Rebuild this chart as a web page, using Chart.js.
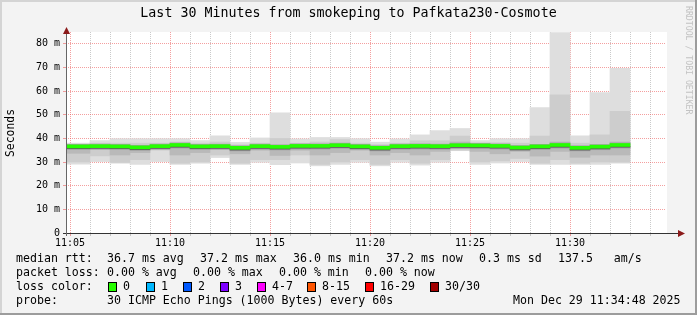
<!DOCTYPE html>
<html lang="en">
<head>
<meta charset="UTF-8">
<title>Last 30 Minutes from smokeping to Pafkata230-Cosmote</title>
<style>
  html, body { margin: 0; padding: 0; background: #f3f3f3; }
  #wrap { width: 697px; height: 315px; }
</style>
<script src="https://cdn.jsdelivr.net/npm/chart.js"></script>
</head>
<body>
<div id="wrap"><canvas id="smoke" width="697" height="315"></canvas></div>
<script>
// minute (11:MM) at which each 60 s step ends
const stepEnd = [5, 6, 7, 8, 9, 10, 11, 12, 13, 14, 15, 16, 17, 18, 19, 20,
                 21, 22, 23, 24, 25, 26, 27, 28, 29, 30, 31, 32, 33];

// ping spread per step (ms)
const rttMin = [29.1, 29.1, 30.2, 29.5, 29.0, 30.2, 29.0, 29.5, 31.9, 29.0, 29.9, 28.9, 29.6, 28.4, 29.0,
                29.9, 28.4, 29.9, 28.7, 29.9, 34.8, 29.0, 29.6, 30.2, 29.0, 29.0, 29.0, 29.0, 29.5];
const rttP10 = [30.0, 30.0, 32.6, 29.8, 31.0, 35.0, 29.5, 30.0, 33.0, 29.5, 31.0, 31.0, 33.0, 29.0, 30.0,
                31.0, 29.0, 31.0, 29.5, 31.0, 35.0, 30.0, 30.5, 31.5, 29.5, 31.0, 29.5, 30.0, 30.0];
const rttP25 = [33.7, 33.7, 35.5, 33.0, 34.0, 35.6, 33.0, 34.0, 35.5, 33.5, 35.0, 32.8, 35.0, 33.0, 34.0,
                35.0, 33.0, 34.0, 33.0, 34.5, 35.8, 34.5, 33.5, 34.5, 32.5, 34.5, 32.0, 33.0, 33.0];
const rttMed = [36.6, 36.6, 36.7, 36.6, 36.2, 36.7, 37.2, 36.6, 36.7, 36.0, 36.7, 36.4, 36.8, 36.8, 37.1,
                36.6, 36.0, 36.7, 36.8, 36.7, 37.1, 37.0, 36.8, 36.1, 36.6, 37.2, 36.0, 36.5, 37.2];
const rttP75 = [37.2, 37.2, 37.3, 37.2, 36.8, 37.2, 37.8, 37.1, 37.3, 36.6, 37.2, 37.1, 37.3, 37.3, 38.0,
                37.1, 36.6, 37.2, 37.4, 37.3, 38.5, 37.6, 37.3, 36.8, 37.3, 38.5, 36.6, 37.2, 38.5];
const rttP90 = [37.6, 37.6, 38.0, 38.0, 38.0, 38.0, 38.5, 38.0, 38.5, 37.3, 38.0, 40.0, 38.0, 38.5, 39.5,
                38.0, 37.4, 38.0, 39.0, 39.0, 41.0, 38.2, 38.2, 38.0, 41.0, 58.4, 38.0, 41.5, 51.4];
const rttMax = [38.0, 38.0, 39.1, 39.9, 39.9, 39.9, 39.9, 39.1, 41.1, 38.3, 40.2, 50.8, 39.8, 40.4, 40.4,
                39.9, 38.4, 39.8, 41.5, 43.3, 44.2, 39.1, 39.9, 39.9, 53.0, 84.8, 41.1, 59.4, 69.6];

// axis labels
const yTickLabels = ['0', '10 m', '20 m', '30 m', '40 m', '50 m', '60 m', '70 m', '80 m'];
const xTickLabels = ['11:05', '11:10', '11:15', '11:20', '11:25', '11:30'];

// legend texts
const rttStats = ['36.7 ms avg', '37.2 ms max', '36.0 ms min', '37.2 ms now', '0.3 ms sd', '137.5   am/s'];
const lossStats = ['0.00 % avg', '0.00 % max', '0.00 % min', '0.00 % now'];
const lossLabels = ['0', '1', '2', '3', '4-7', '8-15', '16-29', '30/30'];
const lossColors = ['#26ff00', '#00b8ff', '#0059ff', '#7e00ff', '#ff00ff', '#ff5500', '#ff0000', '#a10000'];

const MONO = '"DejaVu Sans Mono", monospace';

function range(lo, hi) {
    return stepEnd.map((m, i) => ({ x: m - 0.5, y: [lo(i), hi(i)] }));
}

function layer(label, data, color, order) {
    return {
        label: label, data: data, backgroundColor: color, borderWidth: 0,
        barThickness: 20, grouped: false, order: order
    };
}

const datasets = [
    layer('min-max', range(i => rttMin[i], i => rttMax[i]), '#dedede', 6),
    layer('p10-p90', range(i => rttP10[i], i => rttP90[i]), '#cdcdcd', 5),
    layer('p25-p75', range(i => rttP25[i], i => rttP75[i]), '#b9b9b9', 4),
    layer('core', range(i => rttMed[i] - 1.3, i => rttMed[i] + 0.9), '#a3a3a3', 3),
    layer('shade', range(i => rttMed[i] - 0.95, i => rttMed[i] - 0.55), '#5e5e5e', 2),
    layer('median rtt', range(i => rttMed[i] - 0.6, i => rttMed[i] + 0.65), lossColors[0], 1)
];

const gridRed = 'rgba(235, 80, 80, 0.55)';
const gridGray = 'rgba(150, 150, 150, 0.5)';

const rrdFrame = {
    id: 'rrdFrame',
    beforeDraw(chart) {
        const c = chart.ctx, a = chart.chartArea;
        c.save();
        c.fillStyle = '#f3f3f3';
        c.fillRect(0, 0, chart.width, chart.height);
        // bevel
        c.fillStyle = '#d4d4d4';
        c.fillRect(0, 0, chart.width, 2);
        c.fillRect(0, 0, 2, chart.height);
        c.fillStyle = '#9c9c9c';
        c.fillRect(0, chart.height - 2, chart.width, 2);
        c.fillRect(chart.width - 2, 0, 2, chart.height);
        c.fillStyle = '#ffffff';
        c.fillRect(a.left, a.top, a.right - a.left + 1, a.bottom - a.top);
        c.restore();
    },
    afterDraw(chart) {
        const c = chart.ctx, a = chart.chartArea;
        c.save();
        // axes with arrows
        c.strokeStyle = '#333';
        c.lineWidth = 1;
        c.beginPath();
        c.moveTo(a.left - 3, a.bottom + 0.5);
        c.lineTo(a.right + 16, a.bottom + 0.5);
        c.stroke();
        c.strokeStyle = '#666';
        c.beginPath();
        c.moveTo(a.left + 0.5, a.bottom + 3);
        c.lineTo(a.left + 0.5, a.top - 1);
        c.stroke();
        c.fillStyle = '#8b1a1a';
        c.beginPath();
        c.moveTo(a.right + 19, a.bottom + 0.5);
        c.lineTo(a.right + 12, a.bottom - 3);
        c.lineTo(a.right + 12, a.bottom + 4);
        c.closePath();
        c.fill();
        c.beginPath();
        c.moveTo(a.left + 0.5, a.top - 5);
        c.lineTo(a.left - 3, a.top + 2);
        c.lineTo(a.left + 4, a.top + 2);
        c.closePath();
        c.fill();

        c.fillStyle = '#000';
        c.textBaseline = 'middle';
        // title
        c.font = '13.3px ' + MONO;
        c.textAlign = 'center';
        c.fillText('Last 30 Minutes from smokeping to Pafkata230-Cosmote', chart.width / 2, 14);
        // unit
        c.save();
        c.translate(11, 133);
        c.rotate(-Math.PI / 2);
        c.font = '11.4px ' + MONO;
        c.fillText('Seconds', 0, 0);
        c.restore();
        // watermark
        c.save();
        c.translate(688, 6);
        c.rotate(Math.PI / 2);
        c.textAlign = 'left';
        c.fillStyle = '#c2c2c2';
        c.font = '8.2px ' + MONO;
        c.fillText('RRDTOOL / TOBI OETIKER', 0, 0);
        c.restore();

        // legend
        c.textAlign = 'left';
        c.font = '11.6px ' + MONO;
        const rows = [259, 273, 287, 301];
        c.fillText('median rtt:', 16, rows[0]);
        [107, 200, 293, 386, 479, 558].forEach((x, i) => c.fillText(rttStats[i], x, rows[0]));
        c.fillText('packet loss:', 16, rows[1]);
        [107, 193, 279, 365].forEach((x, i) => c.fillText(lossStats[i], x, rows[1]));
        c.fillText('loss color:', 16, rows[2]);
        [108, 146, 183, 220, 257, 307, 365, 430].forEach((x, i) => {
            c.fillStyle = lossColors[i];
            c.fillRect(x, rows[2] - 5, 8, 9);
            c.strokeStyle = '#000';
            c.strokeRect(x + 0.5, rows[2] - 4.5, 8, 9);
            c.fillStyle = '#000';
            c.fillText(lossLabels[i], x + 15, rows[2]);
        });
        c.fillText('probe:', 16, rows[3]);
        c.fillText('30 ICMP Echo Pings (1000 Bytes) every 60s', 107, rows[3]);
        c.fillText('Mon Dec 29 11:34:48 2025', 513, rows[3]);
        c.restore();
    }
};

new Chart(document.getElementById('smoke'), {
    type: 'bar',
    data: { datasets: datasets },
    options: {
        responsive: false,
        animation: false,
        layout: { padding: { top: 32, right: 31, left: 0, bottom: 0 } },
        plugins: { legend: { display: false }, tooltip: { enabled: false } },
        scales: {
            x: {
                type: 'linear',
                min: 4.8,
                max: 34.8,
                offset: false,
                z: 1,
                border: { display: false, dash: [1, 1] },
                afterFit(scale) { scale.height = 82; },
                afterBuildTicks(scale) {
                    const t = [];
                    for (let m = 5; m <= 34; m++) t.push({ value: m });
                    scale.ticks = t;
                },
                grid: {
                    offset: false,
                    tickLength: 3,
                    lineWidth: 1,
                    color: ctx => (ctx.tick && ctx.tick.value % 5 === 0) ? gridRed : gridGray
                },
                ticks: {
                    padding: 1,
                    maxRotation: 0,
                    autoSkip: false,
                    color: '#000',
                    font: { family: MONO, size: 10 },
                    callback: v => v % 5 === 0 ? xTickLabels[v / 5 - 1] : ''
                }
            },
            y: {
                min: 0,
                max: 85,
                z: 1,
                border: { display: false, dash: [1, 1] },
                afterFit(scale) { scale.width = 66; },
                afterBuildTicks(scale) {
                    const t = [];
                    for (let v = 0; v <= 80; v += 5) t.push({ value: v });
                    scale.ticks = t;
                },
                grid: {
                    tickLength: 3,
                    lineWidth: 1,
                    color: ctx => (ctx.tick && ctx.tick.value % 10 === 0) ? gridRed : gridGray
                },
                ticks: {
                    padding: 3,
                    color: '#000',
                    font: { family: MONO, size: 10 },
                    callback: v => v % 10 === 0 ? yTickLabels[v / 10] : ''
                }
            }
        }
    },
    plugins: [rrdFrame]
});
</script>
</body>
</html>
